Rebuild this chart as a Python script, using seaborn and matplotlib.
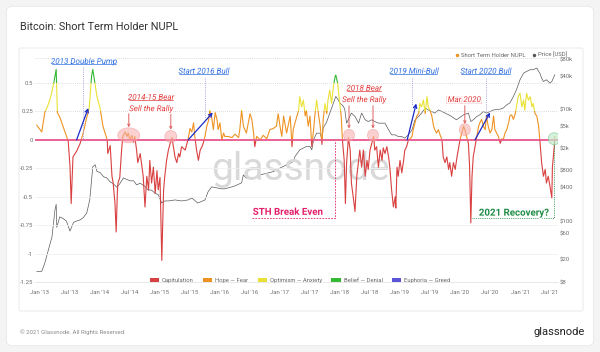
import matplotlib
matplotlib.use("Agg")
import matplotlib.dates as mdates
import matplotlib.patheffects as pe
import matplotlib.pyplot as plt
import matplotlib.transforms as mtransforms
import numpy as np
import pandas as pd
import seaborn as sns
from matplotlib.lines import Line2D
from matplotlib.patches import Ellipse, FancyBboxPatch, Patch, Rectangle
from matplotlib.ticker import NullLocator

# Short term holder NUPL (decimal year, value)
nupl_t = [
    2012.945, 2013.03, 2013.08, 2013.13, 2013.18, 2013.23, 2013.27, 2013.29, 2013.33, 2013.39,
    2013.47, 2013.50, 2013.52, 2013.55, 2013.61, 2013.67, 2013.72, 2013.78, 2013.82, 2013.86,
    2013.88, 2013.95, 2014.00, 2014.05, 2014.12, 2014.13, 2014.17, 2014.20, 2014.22, 2014.25,
    2014.27, 2014.29, 2014.30, 2014.33, 2014.36, 2014.38, 2014.42, 2014.45, 2014.47, 2014.50,
    2014.53, 2014.56, 2014.58, 2014.61, 2014.63, 2014.67, 2014.72, 2014.75, 2014.78, 2014.81,
    2014.83, 2014.86, 2014.89, 2014.92, 2014.95, 2014.97, 2015.00, 2015.03, 2015.06, 2015.08,
    2015.11, 2015.14, 2015.17, 2015.20, 2015.22, 2015.25, 2015.28, 2015.31, 2015.33, 2015.36,
    2015.42, 2015.45, 2015.47, 2015.50, 2015.53, 2015.56, 2015.58, 2015.61, 2015.64, 2015.67,
    2015.70, 2015.72, 2015.75, 2015.78, 2015.81, 2015.83, 2015.86, 2015.89, 2015.92, 2015.95,
    2015.97, 2016.00, 2016.03, 2016.06, 2016.08, 2016.14, 2016.20, 2016.25, 2016.31, 2016.33,
    2016.36, 2016.39, 2016.44, 2016.50, 2016.53, 2016.56, 2016.58, 2016.61, 2016.67, 2016.72,
    2016.78, 2016.83, 2016.89, 2016.94, 2016.97, 2017.00, 2017.03, 2017.06, 2017.11, 2017.17,
    2017.20, 2017.22, 2017.25, 2017.31, 2017.33, 2017.36, 2017.39, 2017.42, 2017.44, 2017.47,
    2017.50, 2017.53, 2017.56, 2017.58, 2017.61, 2017.64, 2017.67, 2017.70, 2017.72, 2017.75,
    2017.78, 2017.80, 2017.83, 2017.86, 2017.89, 2017.92, 2017.93, 2017.96, 2017.99, 2018.02,
    2018.04, 2018.07, 2018.09, 2018.11, 2018.14, 2018.17, 2018.19, 2018.22, 2018.25, 2018.28,
    2018.31, 2018.33, 2018.36, 2018.39, 2018.42, 2018.45, 2018.47, 2018.50, 2018.53, 2018.56,
    2018.58, 2018.61, 2018.64, 2018.67, 2018.70, 2018.72, 2018.75, 2018.78, 2018.81, 2018.83,
    2018.86, 2018.89, 2018.92, 2018.93, 2018.95, 2018.97, 2019.00, 2019.03, 2019.06, 2019.08,
    2019.11, 2019.14, 2019.17, 2019.20, 2019.22, 2019.25, 2019.28, 2019.31, 2019.33, 2019.36,
    2019.39, 2019.42, 2019.45, 2019.47, 2019.50, 2019.53, 2019.56, 2019.58, 2019.61, 2019.64,
    2019.67, 2019.70, 2019.72, 2019.75, 2019.78, 2019.81, 2019.83, 2019.86, 2019.89, 2019.92,
    2019.95, 2019.97, 2020.00, 2020.03, 2020.06, 2020.08, 2020.11, 2020.14, 2020.16, 2020.18,
    2020.20, 2020.22, 2020.25, 2020.28, 2020.31, 2020.33, 2020.36, 2020.39, 2020.42, 2020.44,
    2020.47, 2020.50, 2020.53, 2020.56, 2020.58, 2020.61, 2020.64, 2020.67, 2020.70, 2020.72,
    2020.75, 2020.78, 2020.81, 2020.83, 2020.86, 2020.89, 2020.92, 2020.94, 2020.97, 2021.00,
    2021.03, 2021.06, 2021.08, 2021.11, 2021.14, 2021.17, 2021.20, 2021.22, 2021.25, 2021.28,
    2021.31, 2021.33, 2021.36, 2021.39, 2021.42, 2021.44, 2021.47, 2021.50, 2021.53, 2021.54,
    2021.57, 2021.58,
]
nupl_v = [
    0.13, 0.07, 0.24, 0.30, 0.38, 0.50, 0.62, 0.24, 0.20, 0.11,
    -0.01, -0.23, -0.56, -0.15, -0.10, -0.03, 0.06, 0.20, 0.28, 0.56,
    0.62, 0.38, 0.28, 0.12, 0.00, -0.12, -0.05, -0.32, -0.38, -0.56,
    -0.81, -0.45, -0.38, -0.33, -0.09, 0.03, 0.07, 0.03, 0.06, 0.00,
    0.04, -0.02, 0.03, -0.09, -0.20, -0.12, -0.32, -0.59, -0.32, -0.44,
    -0.18, -0.38, -0.24, -0.47, -0.27, -0.44, -0.33, -1.06, -0.44, -0.32,
    -0.18, -0.09, -0.03, 0.02, -0.05, -0.15, -0.20, -0.12, -0.15, -0.06,
    -0.09, -0.03, 0.01, 0.10, 0.07, 0.15, 0.03, -0.09, -0.18, -0.09,
    -0.06, -0.03, 0.03, 0.12, 0.17, 0.26, 0.20, 0.09, 0.24, 0.18,
    0.09, 0.15, 0.00, 0.06, 0.03, 0.03, 0.02, 0.05, 0.02, 0.09,
    0.26, 0.12, 0.06, 0.23, 0.18, 0.06, -0.06, 0.03, 0.00, 0.04,
    0.01, 0.09, 0.10, 0.12, 0.23, 0.12, 0.03, 0.21, 0.06, 0.21,
    -0.06, 0.09, 0.15, 0.26, 0.38, 0.29, 0.35, 0.21, 0.26, 0.12,
    0.21, -0.06, 0.09, 0.21, 0.35, 0.23, 0.12, -0.04, 0.18, 0.32,
    0.23, 0.35, 0.44, 0.32, 0.47, 0.56, 0.57, 0.50, 0.35, 0.21,
    0.00, -0.18, -0.56, -0.20, 0.02, -0.09, -0.38, -0.50, -0.63, -0.32,
    -0.18, -0.09, -0.24, -0.09, -0.32, -0.18, -0.26, -0.09, -0.03, 0.03,
    -0.09, -0.06, -0.24, -0.09, -0.18, -0.07, -0.12, -0.06, -0.15, -0.24,
    -0.44, -0.59, -0.50, -0.60, -0.24, -0.32, -0.18, -0.29, -0.18, -0.09,
    -0.06, 0.00, 0.01, 0.03, 0.09, 0.15, 0.21, 0.23, 0.32, 0.29,
    0.35, 0.23, 0.38, 0.29, 0.26, 0.21, 0.12, 0.09, 0.06, 0.09,
    0.04, 0.00, -0.15, -0.20, -0.15, -0.26, -0.20, -0.32, -0.20, -0.26,
    -0.15, -0.09, 0.00, 0.06, 0.12, 0.09, 0.03, -0.03, -0.24, -0.73,
    -0.32, -0.15, -0.06, 0.03, 0.12, 0.15, 0.18, 0.12, 0.09, 0.21,
    0.12, 0.06, 0.09, 0.21, 0.09, 0.06, 0.03, -0.03, 0.01, 0.00,
    0.06, 0.09, 0.15, 0.21, 0.22, 0.18, 0.23, 0.29, 0.38, 0.41,
    0.29, 0.35, 0.26, 0.41, 0.35, 0.38, 0.29, 0.32, 0.23, 0.21,
    0.12, 0.00, -0.20, -0.32, -0.26, -0.38, -0.32, -0.41, -0.51, -0.24,
    -0.06, 0.03,
]

# BTC price in USD (decimal year, price)
price_t = [
    2012.945, 2013.03, 2013.08, 2013.14, 2013.20, 2013.25, 2013.27, 2013.28, 2013.33, 2013.39,
    2013.44, 2013.50, 2013.56, 2013.61, 2013.67, 2013.72, 2013.78, 2013.83, 2013.88, 2013.92,
    2013.95, 2014.00, 2014.06, 2014.11, 2014.17, 2014.22, 2014.28, 2014.33, 2014.39, 2014.45,
    2014.50, 2014.56, 2014.61, 2014.67, 2014.75, 2014.80, 2014.86, 2014.92, 2014.97, 2015.03,
    2015.08, 2015.14, 2015.25, 2015.36, 2015.47, 2015.53, 2015.63, 2015.75, 2015.80, 2015.86,
    2015.92, 2016.03, 2016.08, 2016.20, 2016.25, 2016.36, 2016.39, 2016.44, 2016.50, 2016.61,
    2016.67, 2016.78, 2016.89, 2017.00, 2017.11, 2017.17, 2017.22, 2017.25, 2017.33, 2017.44,
    2017.50, 2017.53, 2017.56, 2017.61, 2017.67, 2017.70, 2017.72, 2017.78, 2017.83, 2017.89,
    2017.93, 2017.97, 2018.00, 2018.06, 2018.08, 2018.11, 2018.19, 2018.25, 2018.31, 2018.36,
    2018.42, 2018.47, 2018.53, 2018.58, 2018.64, 2018.70, 2018.75, 2018.81, 2018.86, 2018.92,
    2018.97, 2019.03, 2019.08, 2019.14, 2019.20, 2019.25, 2019.31, 2019.36, 2019.42, 2019.47,
    2019.53, 2019.58, 2019.64, 2019.70, 2019.75, 2019.81, 2019.86, 2019.94, 2020.06, 2020.14,
    2020.18, 2020.22, 2020.28, 2020.33, 2020.39, 2020.44, 2020.50, 2020.56, 2020.67, 2020.72,
    2020.78, 2020.83, 2020.89, 2020.94, 2021.00, 2021.06, 2021.11, 2021.17, 2021.22, 2021.28,
    2021.31, 2021.33, 2021.36, 2021.39, 2021.44, 2021.50, 2021.53, 2021.58,
]
price_v = [
    12.3, 12.5, 17.5, 30, 52, 159, 200, 77, 119, 110,
    100, 66, 95, 100, 105, 115, 140, 242, 950, 1030,
    780, 750, 626, 600, 506, 470, 408, 470, 598, 560,
    530, 530, 448, 480, 420, 362, 360, 315, 300, 211,
    230, 230, 240, 230, 240, 260, 211, 240, 334, 413,
    400, 380, 380, 413, 430, 487, 678, 590, 610, 610,
    678, 727, 777, 900, 1026, 1100, 1180, 1450, 1910, 2200,
    2200, 1910, 2900, 3820, 3820, 2900, 4700, 6180, 8770, 13300,
    17500, 15200, 13300, 11540, 10000, 5780, 8770, 7620, 5780, 8770,
    6640, 6180, 6640, 6180, 5780, 5780, 5780, 4380, 3560, 3560,
    3320, 3320, 3100, 3560, 4380, 6640, 7620, 8770, 10800, 10000,
    9370, 8770, 10000, 9370, 8770, 8170, 7620, 6640, 8170, 8770,
    6180, 6640, 7620, 8170, 9370, 8770, 9370, 10000, 10330, 10800,
    12400, 13300, 17500, 23000, 34900, 46000, 49300, 52900, 52900, 56700,
    49300, 46000, 37400, 32500, 34900, 30400, 32500, 43000,
]

band_labels = ["Capitulation", "Hope — Fear", "Optimism — Anxiety", "Belief — Denial", "Euphoria — Greed"]
band_edges = [-2.0, 0.0, 0.25, 0.5, 0.75, 2.0]
band_colors = ["#d94040", "#ee9322", "#e9e235", "#35b935", "#5a54d6"]

nupl_ticks = [-1.25, -1, -0.75, -0.5, -0.25, 0, 0.25, 0.5]
nupl_labels = ["-1.25", "-1", "-0.75", "-0.5", "-0.25", "0", "0.25", "0.5"]
price_ticks = [8, 20, 60, 100, 400, 800, 2000, 5000, 10000, 40000, 80000]
price_labels = ["$8", "$20", "$60", "$100", "$400", "$800", "$2k", "$5k", "$10k", "$40k", "$80k"]


def to_date(t):
    base = pd.Timestamp("2013-01-01")
    if np.ndim(t) == 0:
        return base + pd.Timedelta(days=(float(t) - 2013) * 365.25)
    return base + pd.to_timedelta((np.asarray(t, dtype=float) - 2013) * 365.25, unit="D")


def dn(t):
    return mdates.date2num(to_date(t))


sns.set_theme(style="white")
plt.rcParams["font.family"] = ["Roboto", "DejaVu Sans"]

fig = plt.figure(figsize=(6, 3.52), dpi=100, facecolor="#f4f4f5")
fig.add_artist(FancyBboxPatch((0.011, 0.018), 0.978, 0.964, boxstyle="round,pad=0,rounding_size=0.012",
                              transform=fig.transFigure, facecolor="white", edgecolor="#e9e9e9",
                              lw=0.6, zorder=-3))
fig.add_artist(FancyBboxPatch((19 / 600, 1 - 311 / 352), 564 / 600, 263 / 352,
                              boxstyle="round,pad=0,rounding_size=0.004", transform=fig.transFigure,
                              facecolor="white", edgecolor="#e6e6e6", lw=0.6, zorder=-2))

ax = fig.add_axes([35 / 600, 1 - 282 / 352, 523 / 600, 224 / 352])
ax2 = ax.twinx()
ax.set_zorder(ax2.get_zorder() + 1)
ax.patch.set_visible(False)

# price on the log axis
sns.lineplot(x=to_date(price_t), y=price_v, ax=ax2, color="#5a5a5a", lw=0.5,
             sort=False, estimator=None)
ax2.set_yscale("log")
ax2.set_ylim(8, 86000)

# NUPL line, one copy per colour band clipped to its range
dates = to_date(nupl_t)
blend = mtransforms.blended_transform_factory(ax.transAxes, ax.transData)
for lo, hi, c in zip(band_edges[:-1], band_edges[1:], band_colors):
    sns.lineplot(x=dates, y=nupl_v, ax=ax, color=c, lw=0.8, sort=False, estimator=None)
    ax.lines[-1].set_clip_path(Rectangle((0, lo), 1, hi - lo, transform=blend))

ax.set_xlim(dn(2012.917), dn(2021.633))
ax.set_ylim(-1.25, 0.72)

# grid
for v in nupl_ticks[1:]:
    if v > 0:
        ax.axhline(v, color="#cfcfcf", lw=0.6, ls=(0, (1, 1.5)), zorder=0.5)
    elif v < 0:
        ax.axhline(v, color="#efefef", lw=0.6, zorder=0.5)
ax.axhline(0.72, color="#cfcfcf", lw=0.6, ls=(0, (1, 1.5)), zorder=0.5)
ax.axhline(0, color="#e9558c", lw=1.3, zorder=3)

xt = pd.date_range("2013-01-01", "2021-07-01", freq="6MS")
ax.set_xticks(mdates.date2num(xt))
ax.set_xticklabels([d.strftime("%b '%y") for d in xt])
ax.set_yticks(nupl_ticks)
ax.set_yticklabels(nupl_labels)
ax2.set_yticks(price_ticks)
ax2.set_yticklabels(price_labels)
ax2.yaxis.set_minor_locator(NullLocator())
ax.set_xlabel("")
ax.set_ylabel("")
ax2.set_ylabel("")
ax.tick_params(axis="both", length=0, labelsize=4.3, labelcolor="#6f6f6f")
ax.tick_params(axis="x", pad=6)
ax.tick_params(axis="y", pad=1.5)
ax2.tick_params(axis="y", length=0, pad=1, labelsize=4.3, labelcolor="#6f6f6f")
for a in (ax, ax2):
    for s in a.spines.values():
        s.set_visible(False)
ax.spines["bottom"].set_visible(True)
ax.spines["bottom"].set_color("#e4e4e4")
ax.spines["bottom"].set_linewidth(0.6)

# watermark
ax.text(0.507, 0.5, "glassnode", transform=ax.transAxes, fontsize=28, color="#d9d9d9",
        ha="center", va="center", zorder=0.2)

# annotations
halo = [pe.withStroke(linewidth=2, foreground="white")]
underlined = []
blue, red, pink, green = "#2f6fdf", "#e23c3c", "#e3206b", "#1e8c45"


def label(t, v, s, color, underline=False, **kw):
    style = dict(fontsize=5.8, style="italic")
    style.update(kw)
    txt = ax.text(dn(t), v, s, color=color, ha="center", va="center", zorder=6,
                  path_effects=halo, **style)
    if underline:
        underlined.append(txt)
    return txt


label(2013.73, 0.686, "2013 Double Pump", blue, True)
label(2015.73, 0.60, "Start 2016 Bull", blue, True)
label(2019.23, 0.60, "2019 Mini-Bull", blue, True)
label(2020.43, 0.60, "Start 2020 Bull", blue, True)
label(2014.85, 0.37, "2014-15 Bear", red, True)
label(2014.85, 0.27, "Sell the Rally", red)
label(2018.40, 0.45, "2018 Bear", red, True)
label(2018.40, 0.35, "Sell the Rally", red)
label(2020.07, 0.35, "Mar 2020", red,
      bbox=dict(boxstyle="square,pad=0.15", facecolor="#fbd3d7", edgecolor="none"))
label(2017.13, -0.633, "STH Break Even", pink, style="normal", fontweight="bold", fontsize=7)
label(2020.90, -0.64, "2021 Recovery?", green, style="normal", fontweight="bold", fontsize=7)

for t, v0, v1 in [(2013.72, 0.64, 0.0), (2015.75, 0.545, 0.185), (2019.20, 0.545, 0.31),
                  (2020.43, 0.545, 0.25)]:
    ax.plot([dn(t), dn(t)], [v0, v1], color="#a7a7e6", lw=0.7, ls=(0, (1, 1.2)), zorder=2)

for t0, v0, t1, v1 in [(2013.61, 0.0, 2013.805, 0.28), (2015.47, 0.0, 2015.88, 0.24),
                       (2019.12, 0.0, 2019.27, 0.32), (2020.25, 0.0, 2020.50, 0.24)]:
    ax.annotate("", xy=(dn(t1), v1), xytext=(dn(t0), v0), zorder=5,
                arrowprops=dict(arrowstyle="->", color="#1b2bc8", lw=0.9, shrinkA=0, shrinkB=0,
                                mutation_scale=6))

for t, v0, v1 in [(2014.48, 0.23, 0.11), (2015.18, 0.23, 0.09), (2018.15, 0.30, 0.10),
                  (2018.55, 0.30, 0.10), (2020.08, 0.30, 0.14)]:
    ax.annotate("", xy=(dn(t), v1), xytext=(dn(t), v0), zorder=5,
                arrowprops=dict(arrowstyle="->", color="#e06060", lw=0.7, shrinkA=0, shrinkB=0,
                                mutation_scale=4))

for t, v, w, h in [(2014.48, 0.04, 22, 15), (2015.18, 0.03, 12, 12), (2018.15, 0.04, 11, 12),
                   (2018.55, 0.04, 11, 12), (2020.08, 0.09, 11, 12)]:
    ax.add_patch(Ellipse((dn(t), v), w / 60 * 365.25, h / 113.7, facecolor="#f7aaaa",
                         edgecolor="#ef8a8a", lw=0.5, alpha=0.55, zorder=4))
ax.add_patch(Ellipse((dn(2021.57), 0.01), 12 / 60 * 365.25, 12 / 113.7, facecolor="#c4ebcd",
                     edgecolor="#6cc785", lw=0.5, alpha=0.7, zorder=4))

ax.plot([dn(2016.53), dn(2017.92), dn(2017.92)], [-0.686, -0.686, 0.0], color=pink, lw=0.6,
        ls=(0, (2, 1.5)), zorder=2)
ax.plot([dn(2020.20), dn(2021.57), dn(2021.57)], [-0.686, -0.686, 0.0], color=green, lw=0.6,
        ls=(0, (1, 1.2)), zorder=2)

# legends
handles = [Patch(facecolor=c, edgecolor="none", label=l) for c, l in zip(band_colors, band_labels)]
ax.legend(handles=handles, loc="center", bbox_to_anchor=(0.507, 0.008), ncol=5, frameon=False,
          fontsize=4.2, handlelength=1.6, handleheight=0.8, handletextpad=0.5, columnspacing=1.6,
          labelcolor="#666666")
top_handles = [
    Line2D([], [], marker="o", ls="none", markerfacecolor="#ee9322", markeredgecolor="none",
           markersize=2.5, label="Short Term Holder NUPL"),
    Line2D([], [], marker="o", ls="none", markerfacecolor="#555555", markeredgecolor="none",
           markersize=2.5, label="Price [USD]"),
]
fig.legend(handles=top_handles, loc="center right", bbox_to_anchor=(572 / 600, 1 - 55 / 352), ncol=2,
           frameon=False, fontsize=4.2, handlelength=0.6, handletextpad=0.3, columnspacing=1.2,
           labelcolor="#666666")

# title and footer
fig.text(20 / 600, 1 - 27 / 352, "Bitcoin: Short Term Holder NUPL", fontsize=7.8, color="#333333",
         va="center")
fig.text(20 / 600, 1 - 332 / 352, "© 2021 Glassnode. All Rights Reserved.", fontsize=4.3,
         color="#8a8a8a", va="center")
fig.text(585 / 600, 1 - 332 / 352, "glassnode", fontsize=8, color="#222222", ha="right", va="center")

# underline the headline labels
fig.canvas.draw()
inv = fig.transFigure.inverted()
for txt in underlined:
    bb = txt.get_window_extent()
    (x0, y0), (x1, _) = inv.transform([[bb.x0 + 1, bb.y0 + 0.5], [bb.x1 - 1, bb.y0]])
    fig.add_artist(Line2D([x0, x1], [y0, y0], color=txt.get_color(), lw=0.5, zorder=10))

fig.savefig("out.png", dpi=100, facecolor=fig.get_facecolor())
